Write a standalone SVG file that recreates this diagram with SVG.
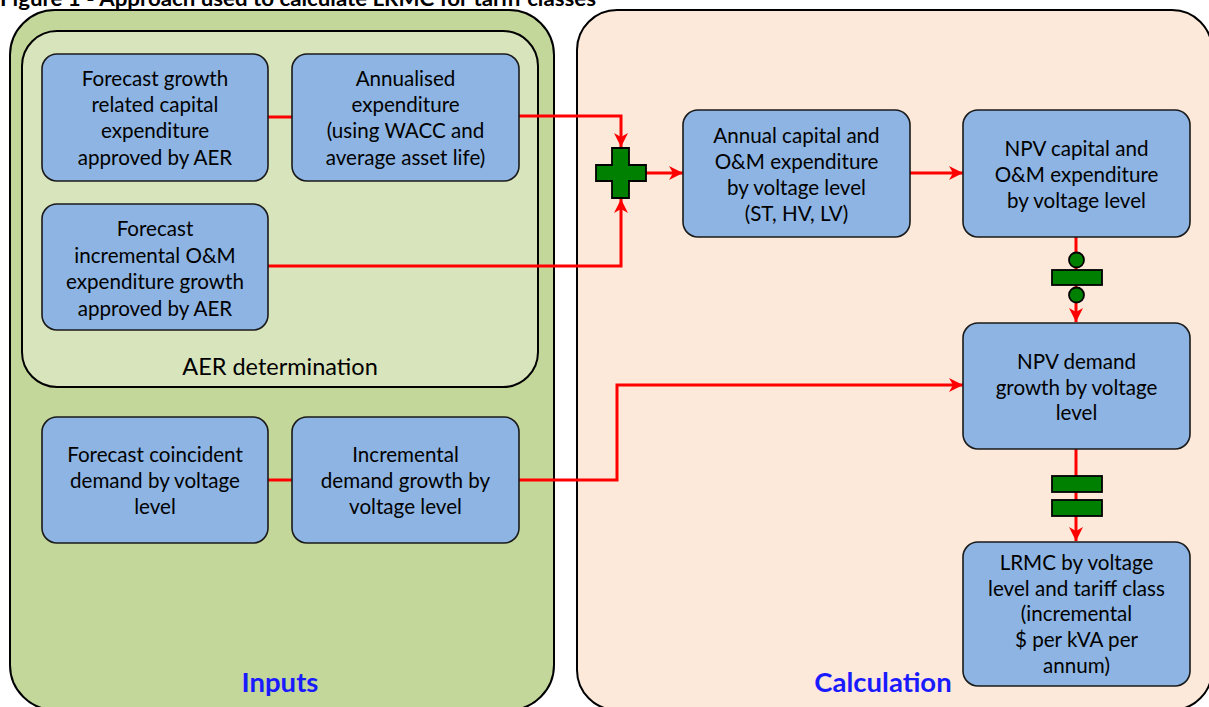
<svg xmlns="http://www.w3.org/2000/svg" width="1209" height="707" viewBox="0 0 1209 707">
<defs>
<style>
.panel{stroke:#000;stroke-width:2}
.box{fill:#8db4e2;stroke:#1a1a1a;stroke-width:1.6}
.t{font-family:Lato,"Liberation Sans",sans-serif;font-size:20.6px;fill:#000;text-anchor:middle}
.lbl{font-family:Lato,"Liberation Sans",sans-serif;font-weight:bold;font-size:27.5px;fill:#1a1aff;text-anchor:middle}
.wire{fill:none;stroke:#ff0000;stroke-width:3}
.sym{fill:#008000;stroke:#000;stroke-width:1.8}
</style>
<marker id="ah" viewBox="0 0 14 14" refX="14" refY="7" markerWidth="14" markerHeight="14" markerUnits="userSpaceOnUse" orient="auto">
<path d="M0,0 L14,7 L0,14 L4,7 z" fill="#ff0000"/>
</marker>
</defs>
<rect width="1209" height="707" fill="#fff"/>
<text x="0" y="6" font-family="Lato,'Liberation Sans',sans-serif" font-weight="bold" font-size="20" textLength="596" lengthAdjust="spacingAndGlyphs">Figure 1 - Approach used to calculate LRMC for tariff classes</text>

<g id="inputs-panel">
<rect class="panel" x="10" y="10" width="544" height="700" rx="45" fill="#c4d79b"/>
<text class="lbl" x="280" y="692">Inputs</text>
</g>
<g id="aer-panel">
<rect class="panel" x="22" y="31" width="516" height="356" rx="35" fill="#d8e4bc"/>
<text class="t" x="280" y="375" style="font-size:23.5px">AER determination</text>
</g>
<g id="calc-panel">
<rect class="panel" x="577" y="10" width="635" height="700" rx="40" fill="#fde9d9"/>
<text class="lbl" x="883" y="692">Calculation</text>
</g>

<g id="connectors">
<path class="wire" d="M268,117 H292"/>
<path class="wire" d="M268,480 H292"/>
<path class="wire" d="M519,116 H621 V147" marker-end="url(#ah)"/>
<path class="wire" d="M268,266 H621 V199" marker-end="url(#ah)"/>
<path class="wire" d="M646,173 H683" marker-end="url(#ah)"/>
<path class="wire" d="M910,173 H963" marker-end="url(#ah)"/>
<path class="wire" d="M1076,237 V322" marker-end="url(#ah)"/>
<path class="wire" d="M519,480 H617 V385 H963" marker-end="url(#ah)"/>
<path class="wire" d="M1076,449 V541" marker-end="url(#ah)"/>
</g>

<g id="plus">
<path class="sym" d="M612,148 H629 V165 H646 V181 H629 V198 H612 V181 H596 V165 H612 Z"/>
</g>
<g id="divide">
<circle class="sym" cx="1076.5" cy="260" r="7.5"/>
<rect class="sym" x="1052" y="270" width="50" height="15"/>
<circle class="sym" cx="1076.5" cy="295" r="7.5"/>
</g>
<g id="equals">
<rect class="sym" x="1052" y="476" width="50" height="16"/>
<rect class="sym" x="1052" y="500" width="50" height="16"/>
</g>

<g id="box1">
<rect class="box" x="42" y="54" width="226" height="127" rx="15"/>
<text class="t" x="155" y="86">Forecast growth</text>
<text class="t" x="155" y="112">related capital</text>
<text class="t" x="155" y="138">expenditure</text>
<text class="t" x="155" y="165">approved by AER</text>
</g>
<g id="box2">
<rect class="box" x="292" y="54" width="227" height="127" rx="15"/>
<text class="t" x="405.5" y="86">Annualised</text>
<text class="t" x="405.5" y="112">expenditure</text>
<text class="t" x="405.5" y="138">(using WACC and</text>
<text class="t" x="405.5" y="165">average asset life)</text>
</g>
<g id="box3">
<rect class="box" x="42" y="204" width="226" height="126" rx="15"/>
<text class="t" x="155" y="236">Forecast</text>
<text class="t" x="155" y="263">incremental O&amp;M</text>
<text class="t" x="155" y="289">expenditure growth</text>
<text class="t" x="155" y="316">approved by AER</text>
</g>
<g id="box4">
<rect class="box" x="42" y="417" width="226" height="126" rx="15"/>
<text class="t" x="155" y="462">Forecast coincident</text>
<text class="t" x="155" y="488">demand by voltage</text>
<text class="t" x="155" y="514">level</text>
</g>
<g id="box5">
<rect class="box" x="292" y="417" width="227" height="126" rx="15"/>
<text class="t" x="405.5" y="462">Incremental</text>
<text class="t" x="405.5" y="488">demand growth by</text>
<text class="t" x="405.5" y="514">voltage level</text>
</g>
<g id="box6">
<rect class="box" x="683" y="110" width="227" height="127" rx="15"/>
<text class="t" x="796.5" y="143">Annual capital and</text>
<text class="t" x="796.5" y="169">O&amp;M expenditure</text>
<text class="t" x="796.5" y="195">by voltage level</text>
<text class="t" x="796.5" y="221">(ST, HV, LV)</text>
</g>
<g id="box7">
<rect class="box" x="963" y="110" width="227" height="127" rx="15"/>
<text class="t" x="1076.5" y="156">NPV capital and</text>
<text class="t" x="1076.5" y="182">O&amp;M expenditure</text>
<text class="t" x="1076.5" y="208">by voltage level</text>
</g>
<g id="box8">
<rect class="box" x="963" y="323" width="227" height="126" rx="15"/>
<text class="t" x="1076.5" y="369">NPV demand</text>
<text class="t" x="1076.5" y="395">growth by voltage</text>
<text class="t" x="1076.5" y="420">level</text>
</g>
<g id="box9">
<rect class="box" x="963" y="542" width="227" height="144" rx="15"/>
<text class="t" x="1076.5" y="570">LRMC by voltage</text>
<text class="t" x="1076.5" y="596">level and tariff class</text>
<text class="t" x="1076.5" y="621">(incremental</text>
<text class="t" x="1076.5" y="647">$ per kVA per</text>
<text class="t" x="1076.5" y="673">annum)</text>
</g>
</svg>
